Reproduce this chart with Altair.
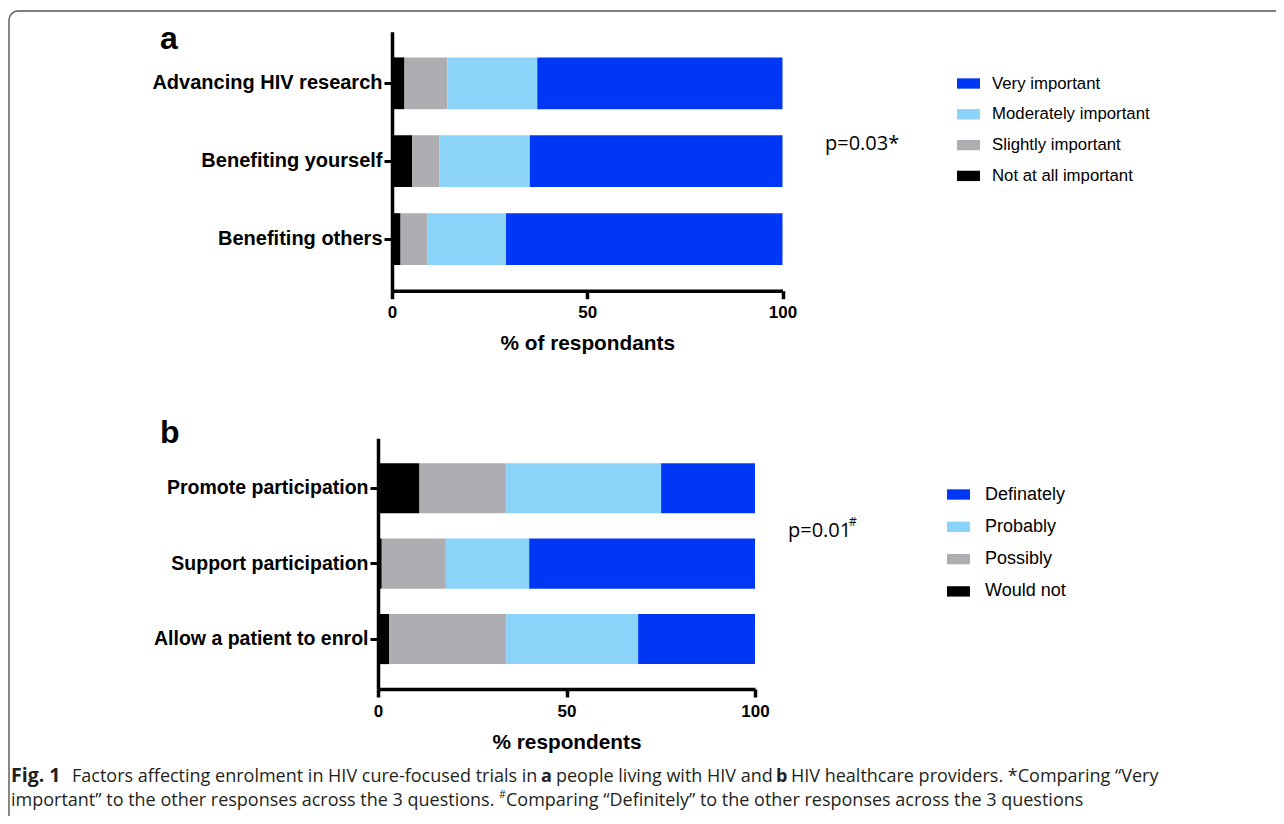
import altair as alt
import pandas as pd

# ---------------- data ----------------
questions_a = ["Advancing HIV research", "Benefiting yourself", "Benefiting others"]
responses_a = ["Very important", "Moderately important", "Slightly important", "Not at all important"]
not_at_all_a = [3.2, 5.2, 2.2]
slightly_a = [11.0, 6.9, 6.9]
moderately_a = [23.0, 23.2, 20.1]
very_a = [62.8, 64.7, 70.8]

questions_b = ["Promote participation", "Support participation", "Allow a patient to enrol"]
responses_b = ["Definately", "Probably", "Possibly", "Would not"]
would_not_b = [11.0, 1.0, 3.0]
possibly_b = [23.0, 17.0, 31.0]
probably_b = [41.1, 22.1, 35.0]
definately_b = [24.9, 59.9, 31.0]

colors = ["#0037F5", "#8CD3FA", "#AEADB2", "#000000"]

caption_fig = "Fig. 1"
caption_1a = "Factors affecting enrolment in HIV cure-focused trials in"
caption_1b = "a"
caption_1c = "people living with HIV and"
caption_1d = "b"
caption_1e = "HIV healthcare providers. *Comparing \u201cVery"
caption_2a = "important\u201d to the other responses across the 3 questions."
caption_2b = "#"
caption_2c = "Comparing \u201cDefinitely\u201d to the other responses across the 3 questions"


def long_df(questions, responses, series):
    rows = []
    stack_resp = list(reversed(responses))
    for qi, q in enumerate(questions):
        for oi, (r, vals) in enumerate(zip(stack_resp, series)):
            rows.append({"question": q, "response": r, "value": vals[qi], "order": oi})
    return pd.DataFrame(rows)


df_a = long_df(questions_a, responses_a, [not_at_all_a, slightly_a, moderately_a, very_a])
df_b = long_df(questions_b, responses_b, [would_not_b, possibly_b, probably_b, definately_b])

W, H = 1268, 808
FONT = "Liberation Sans"
dummy = pd.DataFrame({"k": [0]})


def bars(df, questions, responses, xr, yr, xtitle, lx, ly, row_pad, lab_size,
         title_pad, ylab_size, lab_off):
    return alt.Chart(df).mark_bar().encode(
        x=alt.X(
            "value:Q",
            stack="zero",
            scale=alt.Scale(domain=[0, 100], range=xr, nice=False, zero=True),
            axis=alt.Axis(
                orient="bottom", offset=-(H - yr[1]), values=[0, 50, 100], title=xtitle,
                grid=False, domainColor="black", domainWidth=3.5, tickColor="black",
                tickWidth=3.5, tickSize=8, labelFont=FONT, labelFontWeight="bold",
                labelFontSize=17, labelColor="black", labelPadding=6, titleFont=FONT,
                titleFontWeight="bold", titleFontSize=20.8, titleColor="black",
                titlePadding=title_pad, labelFlush=False, zindex=1,
            ),
        ),
        y=alt.Y(
            "question:N",
            sort=questions,
            scale=alt.Scale(domain=questions, range=yr, paddingInner=0.335, paddingOuter=0.33),
            axis=alt.Axis(
                orient="left", offset=-xr[0], title=None, grid=False, domainColor="black",
                domainWidth=3.5, tickColor="black", tickWidth=3.0, tickSize=8,
                labelFont=FONT, labelFontWeight="bold", labelFontSize=ylab_size,
                labelColor="black", labelPadding=2, labelLimit=400, zindex=1,
            ),
        ),
        color=alt.Color(
            "response:N",
            scale=alt.Scale(domain=responses, range=colors),
            legend=alt.Legend(
                title=None, orient="none", legendX=lx, legendY=ly,
                symbolType="M-1,-0.45H1V0.45H-1Z", symbolSize=529, symbolStrokeWidth=0,
                labelFont=FONT, labelFontSize=lab_size, labelColor="black",
                labelOffset=lab_off, rowPadding=row_pad, padding=0, labelLimit=300,
            ),
        ),
        order=alt.Order("order:Q", sort="ascending"),
    )


def txt(text, x, y, size, font=FONT, bold=False, color="black"):
    return alt.Chart(dummy).mark_text(
        text=text, font=font, fontSize=size, fontWeight="bold" if bold else "normal",
        color=color, align="left", baseline="alphabetic",
    ).encode(x=alt.value(x), y=alt.value(y))


border = alt.Chart(dummy).mark_rect(
    fillOpacity=0, stroke="#555555", strokeWidth=1.4, cornerRadius=9
).encode(x=alt.value(1), y=alt.value(3), x2=alt.value(1400), y2=alt.value(1000))

bars_a = bars(df_a, questions_a, responses_a, [384, 774.5], [23.7, 282.7],
              "% of respondants", 949, 64, 9.8, 16.8, 13, 20, 12)
bars_b = bars(df_b, questions_b, responses_b, [370, 747], [430.3, 681],
              "% respondents", 939, 475, 11.3, 18, 13, 19.5, 15)

CAP = "Open Sans"
CAPC = "#231f20"
CS = 18
layers = [
    border,
    bars_a,
    bars_b,
    txt("a", 152, 41, 32, bold=True),
    txt("b", 152, 435, 32, bold=True),
    txt("p=0.03*", 817, 142, 20, font="Open Sans"),
    txt("p=0.01", 780, 529, 20, font="Open Sans"),
    txt("#", 841, 518, 12, font="Open Sans"),
    txt(caption_fig, 3, 774, 19.5, font=CAP, bold=True, color=CAPC),
    txt(caption_1a, 64, 774, CS, font=CAP, color=CAPC),
    txt(caption_1b, 533, 774, CS, font=CAP, bold=True, color=CAPC),
    txt(caption_1c, 548, 774, CS, font=CAP, color=CAPC),
    txt(caption_1d, 768, 774, CS, font=CAP, bold=True, color=CAPC),
    txt(caption_1e, 783, 774, CS, font=CAP, color=CAPC),
    txt(caption_2a, 3, 798, CS, font=CAP, color=CAPC),
    txt(caption_2b, 491, 790, 10.5, font=CAP, color=CAPC),
    txt(caption_2c, 498, 798, CS, font=CAP, color=CAPC),
]

chart = alt.layer(*layers).resolve_scale(
    x="independent", y="independent", color="independent"
).properties(
    width=W, height=H, padding=0, autosize=alt.AutoSizeParams(type="none")
).configure_view(strokeWidth=0)

chart.save("out.html", embed_options={"renderer": "svg", "actions": False})
